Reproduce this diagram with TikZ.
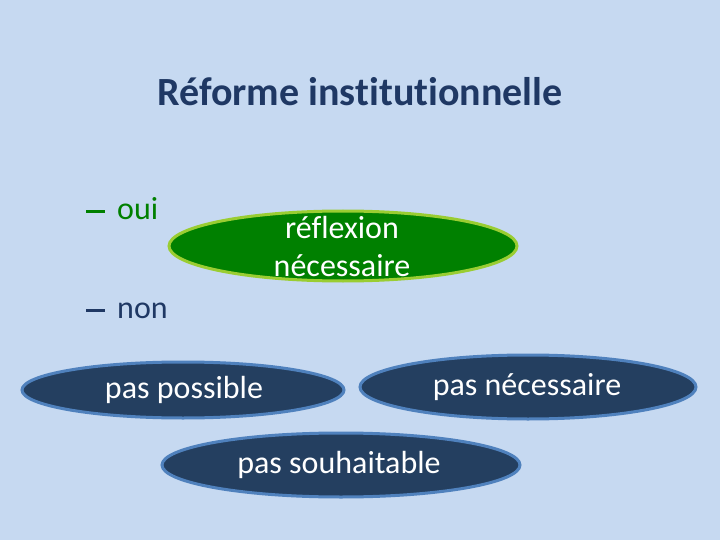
\documentclass[tikz,border=0pt]{standalone}
\usepackage{fontspec}
\setmainfont[Ligatures=NoCommon]{Carlito}
\usetikzlibrary{shapes.geometric}
\definecolor{bg}{RGB}{198,217,241}
\definecolor{titlec}{RGB}{31,56,100}
\definecolor{ovgreen}{RGB}{0,128,0}
\definecolor{ovgreenb}{RGB}{154,205,50}
\definecolor{navy}{RGB}{36,63,96}
\definecolor{navyb}{RGB}{79,129,189}
\definecolor{nonc}{RGB}{31,56,100}
\definecolor{ouic}{RGB}{0,128,0}
\newcommand{\bdash}{\rule[7pt]{19pt}{2.6pt}\hspace{12pt}}
\begin{document}
\begin{tikzpicture}[x=1pt,y=-1pt,
  ovaltext/.style={text=white, font=\fontsize{32}{38}\selectfont, inner sep=0pt},
  greenoval/.style={fill=ovgreen, draw=ovgreenb, line width=3pt},
  navyoval/.style={fill=navy, draw=navyb, line width=3pt},
  bullet/.style={anchor=west, font=\fontsize{32}{38}\selectfont, inner sep=0pt}]
\fill[bg] (0,0) rectangle (720,540);
\useasboundingbox (0,0) rectangle (720,540);
\node[text=titlec, font=\fontsize{40}{48}\selectfont\bfseries] (title) at (360,92) {Réforme institutionnelle};
\node[bullet, text=ouic] (oui) at (86,209) {\bdash oui};
\node[bullet, text=nonc] (non) at (86,311) {\bdash non};
\draw[greenoval] (343,246) ellipse [x radius=174, y radius=35];
\node[ovaltext, align=center] (refl) at (342,247) {réflexion\\nécessaire};
\draw[navyoval] (183,390) ellipse [x radius=161, y radius=28];
\node[ovaltext] (pp) at (184,390) {pas possible};
\draw[navyoval] (528,387) ellipse [x radius=168, y radius=32];
\node[ovaltext] (pn) at (527,387) {pas nécessaire};
\draw[navyoval] (341,465) ellipse [x radius=179, y radius=32];
\node[ovaltext] (ps) at (339,465) {pas souhaitable};
\end{tikzpicture}
\end{document}
